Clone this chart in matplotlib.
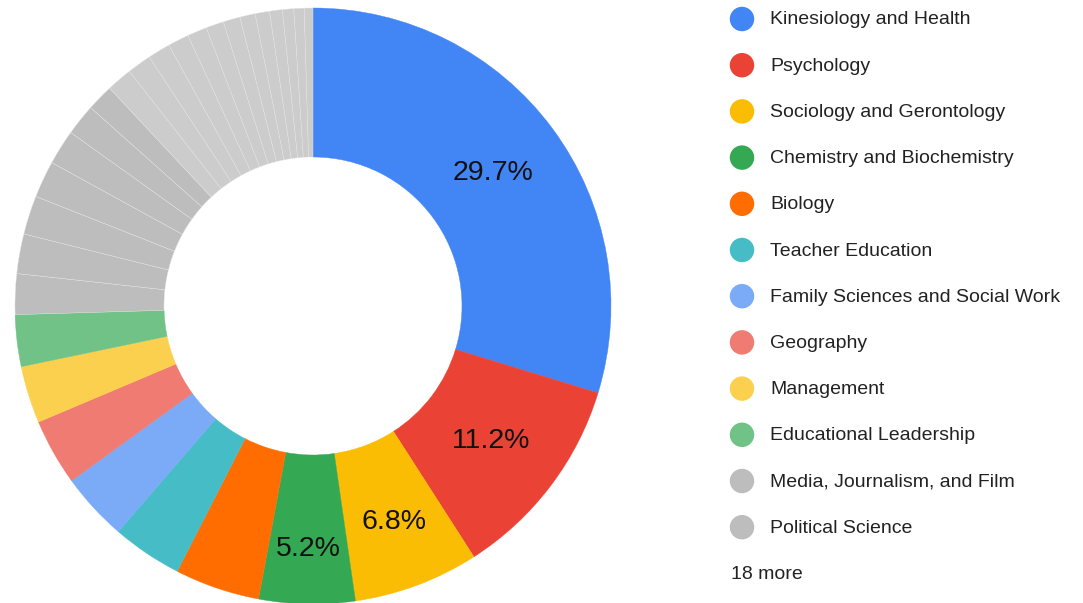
import matplotlib.pyplot as plt
import numpy as np

plt.rcParams['font.family'] = ['Liberation Sans', 'DejaVu Sans']

# departments shown in the legend (share of responses, %)
departments = ['Kinesiology and Health', 'Psychology', 'Sociology and Gerontology',
               'Chemistry and Biochemistry', 'Biology', 'Teacher Education',
               'Family Sciences and Social Work', 'Geography', 'Management',
               'Educational Leadership', 'Media, Journalism, and Film', 'Political Science']
shares = [29.7, 11.2, 6.8, 5.2, 4.6, 3.8, 3.7, 3.6, 3.1, 2.8, 2.2, 2.15]
# the "18 more" slices
more_dark = [2.1, 2.0, 1.9, 1.7, 1.45]
more_light = [1.39, 1.31, 1.22, 1.14, 1.06, 0.97, 0.92, 0.83, 0.78, 0.69, 0.61, 0.56, 0.47]

colors = ['#4285F4', '#EA4335', '#FBBC04', '#34A853', '#FF6D01', '#46BDC6',
          '#7BAAF7', '#F07B72', '#FCD04F', '#71C287', '#BDBDBD', '#BDBDBD']
dark_gray = '#BDBDBD'
light_gray = '#CCCCCC'

values = shares + more_dark + more_light
all_colors = colors + [dark_gray] * len(more_dark) + [light_gray] * len(more_light)
total = sum(values)

W, H = 1083, 603
fig = plt.figure(figsize=(W / 100, H / 100), dpi=100)

# donut
ax = fig.add_axes([15 / W, -1 / H, 596 / W, 596 / H])
wedges, _ = ax.pie(values, colors=all_colors, startangle=90, counterclock=False,
                   radius=1, wedgeprops=dict(width=0.5, edgecolor='#e4e4e4', linewidth=0.3))
# no visible seams between the coloured slices
for w in wedges[:10]:
    w.set_edgecolor(w.get_facecolor())
ax.set_xlim(-1, 1)
ax.set_ylim(-1, 1)
ax.set_aspect('equal')
ax.axis('off')

# percentage labels on the bigger slices
label_r = {0: 0.75, 1: 0.75, 2: 0.775, 3: 0.815}
for i, w in enumerate(wedges[:len(shares)]):
    pct = values[i] / total * 100
    if pct < 5:
        continue
    mid = np.deg2rad((w.theta1 + w.theta2) / 2)
    r = label_r.get(i, 0.75)
    ax.text(r * np.cos(mid), r * np.sin(mid), f'{pct:.1f}%', ha='center', va='center',
            fontsize=20.5, color='#111111')

# legend, drawn in pixel coordinates
lax = fig.add_axes([0, 0, 1, 1])
lax.set_xlim(0, W)
lax.set_ylim(H, 0)
lax.axis('off')
row0, step = 19, 46.2
for i, (name, c) in enumerate(zip(departments, colors)):
    y = row0 + i * step
    lax.scatter([742], [y], s=310, color=c, edgecolors='none')
    lax.text(770, y + 1, name, ha='left', va='center', fontsize=14, color='#222222')
lax.text(731, row0 + len(departments) * step + 1, f'{len(more_dark) + len(more_light)} more',
         ha='left', va='center', fontsize=14, color='#222222')

fig.savefig('out.png', dpi=100)
